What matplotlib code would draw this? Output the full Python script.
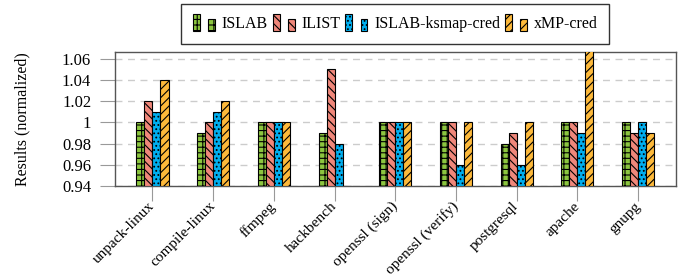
import matplotlib.pyplot as plt
import matplotlib.patches as mpatches
from matplotlib.legend_handler import HandlerBase
import numpy as np

plt.rcParams['font.family'] = ['Liberation Serif', 'DejaVu Serif']
plt.rcParams['hatch.linewidth'] = 0.8

benchmarks = ['unpack-linux', 'compile-linux', 'ffmpeg', 'hackbench', 'openssl (sign)',
              'openssl (verify)', 'postgresql', 'apache', 'gnupg']
series = ['ISLAB', 'ILIST', 'ISLAB-ksmap-cred', 'xMP-cred']
islab = [1.00, 0.99, 1.00, 0.99, 1.00, 1.00, 0.98, 1.00, 1.00]
ilist = [1.02, 1.00, 1.00, 1.05, 1.00, 1.00, 0.99, 1.00, 0.99]
islab_ksmap = [1.01, 1.01, 1.00, 0.98, 1.00, 0.96, 0.96, 0.99, 1.00]
xmp_cred = [1.04, 1.02, 1.00, 0.94, 1.00, 1.00, 1.00, 1.08, 0.99]

colors = ['#8cc63f', '#f0877a', '#00aeef', '#fdb93a']
hatches = ['+++', '\\\\\\\\', '....', '////']


class TwoBars(HandlerBase):
    # pgfplots-style legend image: two small bars of different height
    def create_artists(self, legend, orig, xd, yd, w, h, fontsize, trans):
        bw = w * 0.3
        out = []
        for x0, y0, hh in [(0, -h * 0.25, h * 1.45), (w * 0.68, -h * 0.25, h * 1.05)]:
            r = mpatches.Rectangle((xd + x0, yd + y0), bw, hh, facecolor=orig.get_facecolor(),
                                   edgecolor='black', hatch=orig.get_hatch(), lw=0.8, transform=trans)
            out.append(r)
        return out


fig, ax = plt.subplots(figsize=(6.96, 2.76), dpi=100)
fig.subplots_adjust(left=0.165, right=0.971, top=0.812, bottom=0.326)

x = np.arange(len(benchmarks))
bw = 0.132
data = [islab, ilist, islab_ksmap, xmp_cred]
handles = []
for i, vals in enumerate(data):
    ax.bar(x + (i - 1.5) * bw, np.array(vals) - 0.94, bw, bottom=0.94, color=colors[i],
           edgecolor='black', linewidth=0.8, hatch=hatches[i], zorder=3)
    handles.append(mpatches.Patch(facecolor=colors[i], hatch=hatches[i], edgecolor='black', label=series[i]))

ax.set_xlim(-0.62, len(benchmarks) - 0.38)
ax.set_ylim(0.94, 1.0665)
ax.set_yticks([0.94, 0.96, 0.98, 1.00, 1.02, 1.04, 1.06])
ax.set_yticklabels(['0.94', '0.96', '0.98', '1', '1.02', '1.04', '1.06'])
ax.set_xticks(x)
ax.set_xticklabels(benchmarks, rotation=45, ha='right', va='center', rotation_mode='anchor')
ax.tick_params(axis='both', color='#999999', length=11, width=0.8)
ax.tick_params(axis='x', labelsize=11, pad=2)
ax.tick_params(axis='y', labelsize=12, pad=6)
ax.yaxis.grid(True, linestyle=(0, (5, 4)), color='#cccccc', linewidth=1)
ax.set_axisbelow(True)
for s in ax.spines.values():
    s.set_color('#555555')
    s.set_linewidth(1)
ax.set_ylabel('Results (normalized)', fontsize=11.5)
ax.yaxis.set_label_coords(-0.15, 0.5)

fig.legend(handles=handles, handler_map={mpatches.Patch: TwoBars()}, loc='upper center',
           bbox_to_anchor=(0.568, 0.986), ncol=4, frameon=True, fancybox=False, edgecolor='black',
           fontsize=11.5, handlelength=1.4, handletextpad=0.4, columnspacing=0.3, borderpad=0.75,
           borderaxespad=0)

plt.savefig('out.png')
